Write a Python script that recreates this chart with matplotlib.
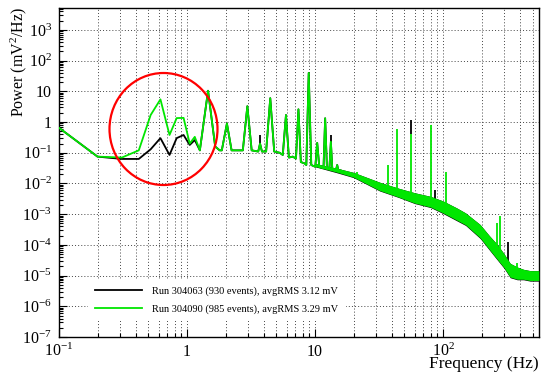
import matplotlib
matplotlib.use("Agg")
import matplotlib.pyplot as plt
from matplotlib.patches import Ellipse
from matplotlib.ticker import FixedLocator, FixedFormatter, LogLocator, NullFormatter
import numpy as np

plt.rcParams['font.family'] = ['Liberation Serif', 'DejaVu Serif']
plt.rcParams['mathtext.fontset'] = 'custom'
plt.rcParams['mathtext.rm'] = 'Liberation Serif'
plt.rcParams['mathtext.it'] = 'Liberation Serif:italic'

GREEN = '#00e600'

# low frequency part, below ~1.3 Hz (the two runs differ here)
low_f = [0.1, 0.2, 0.31, 0.42, 0.52, 0.62, 0.73, 0.83, 0.94, 1.05, 1.15, 1.26]
green_low_v = [0.65, 0.075, 0.07, 0.12, 1.7, 5.5, 0.38, 1.35, 1.37, 0.2, 0.33, 0.12]
black_low_v = [0.65, 0.075, 0.063, 0.063, 0.13, 0.30, 0.085, 0.30, 0.38, 0.18, 0.26, 0.12]

# 1.3 - 16 Hz, both runs nearly identical
mid_f = [1.46, 1.66, 1.8, 1.87, 2.05, 2.23, 2.73, 2.96, 3.2, 3.6,
         3.72, 3.85, 4.15, 4.47, 4.8, 5.3, 5.6, 5.93, 6.25, 6.7,
         7.1, 7.42, 7.75, 8.3, 8.55, 8.93, 9.35, 10.05, 10.4, 10.8,
         11.65, 12.0, 12.4, 12.95, 13.3, 13.65, 14.6, 14.9, 15.2, 16.0]
mid_v = [10.5, 0.16, 0.12, 0.12, 0.9, 0.12, 0.12, 3.3, 0.12, 0.11,
         0.2, 0.11, 0.11, 6.0, 0.11, 0.1, 0.085, 1.7, 0.07, 0.075,
         0.065, 2.6, 0.05, 0.045, 0.04, 40, 0.04, 0.035, 0.21, 0.035,
         0.032, 1.33, 0.03, 0.03, 0.23, 0.029, 0.028, 0.04, 0.027, 0.026]

# noisy band above 10 Hz (upper / lower envelope)
band_f = [10, 15, 20, 32, 45, 60, 80, 100, 128, 150, 195, 230, 265, 300, 335, 380, 425, 480, 560]
green_hi = [0.045, 0.031, 0.023, 0.011, 0.007, 0.005, 0.0038, 0.0027, 0.0016, 0.0011,
            4.6e-4, 2.0e-4, 1.04e-4, 5.1e-5, 2.5e-5, 1.9e-5, 1.6e-5, 1.45e-5, 1.45e-5]
green_lo = [0.036, 0.023, 0.016, 0.0059, 0.0036, 0.0023, 0.0017, 0.0011, 6.4e-4, 4.5e-4,
            1.7e-4, 7.1e-5, 3.4e-5, 1.8e-5, 8.9e-6, 7.6e-6, 7.6e-6, 6.9e-6, 6.9e-6]
black_lo = [0.035, 0.022, 0.0155, 0.0057, 0.0035, 0.00222, 0.00164, 0.00105, 6.1e-4, 4.3e-4,
            1.62e-4, 6.8e-5, 3.25e-5, 1.72e-5, 8.5e-6, 7.3e-6, 7.3e-6, 6.6e-6, 6.6e-6]

# narrow lines on top of the band
spike_f = [21.2, 37.4, 43.4, 56, 80, 105, 266, 279, 377]
spike_base = [0.018, 0.0075, 0.0055, 0.0036, 0.0025, 0.0016, 6e-5, 5e-5, 1.2e-5]
spike_top = [0.024, 0.04, 0.6, 0.4, 0.8, 0.024, 5e-4, 9e-4, 2.5e-5]
bspike_f = [3.72, 13.3, 56, 86, 320]
bspike_base = [0.2, 0.23, 0.4, 0.003, 3e-5]
bspike_top = [0.38, 0.38, 1.2, 0.006, 1.2e-4]

labels = ['Run 304063 (930 events), avgRMS 3.12 mV',
          'Run 304090 (985 events), avgRMS 3.29 mV']

x_ticks = [0.1, 1, 10, 100]
x_ticklabels = ['$10^{-1}$', '1', '10', '$10^{2}$']
y_ticks = [1e-7, 1e-6, 1e-5, 1e-4, 1e-3, 1e-2, 1e-1, 1, 10, 100, 1000]
y_ticklabels = ['$10^{-7}$', '$10^{-6}$', '$10^{-5}$', '$10^{-4}$', '$10^{-3}$', '$10^{-2}$',
                '$10^{-1}$', '1', '10', '$10^{2}$', '$10^{3}$']

fig = plt.figure(figsize=(5.41, 3.73), dpi=100)
ax = fig.add_axes([59/541, 36/373, 480/541, 329/373])
ax.set_xscale('log')
ax.set_yscale('log')

# black run first, green drawn over it
ax.fill_between(band_f, black_lo, green_hi, color='black', lw=0, zorder=2)
lb, = ax.plot(low_f + mid_f, black_low_v + mid_v, color='black', lw=1.3, zorder=2, label=labels[0])
ax.vlines(bspike_f, bspike_base, bspike_top, color='black', lw=1.3, zorder=2)

ax.fill_between(band_f, green_lo, green_hi, color=GREEN, lw=0, zorder=3)
lg, = ax.plot(low_f + mid_f, green_low_v + mid_v, color=GREEN, lw=1.3, zorder=3, label=labels[1])
ax.vlines(spike_f, spike_base, spike_top, color=GREEN, lw=1.3, zorder=3)

ax.set_xlim(0.1, 562)
ax.set_ylim(1e-7, 5.2e3)

ax.xaxis.set_major_locator(FixedLocator(x_ticks))
ax.xaxis.set_major_formatter(FixedFormatter(x_ticklabels))
ax.xaxis.set_minor_locator(LogLocator(base=10, subs=np.arange(2, 10), numticks=30))
ax.xaxis.set_minor_formatter(NullFormatter())
ax.yaxis.set_major_locator(FixedLocator(y_ticks))
ax.yaxis.set_major_formatter(FixedFormatter(y_ticklabels))
ax.yaxis.set_minor_locator(LogLocator(base=10, subs=np.arange(2, 10), numticks=30))
ax.yaxis.set_minor_formatter(NullFormatter())

ax.tick_params(which='both', direction='in', top=False, right=False, width=0.8, labelsize=11.5)
ax.tick_params(which='major', length=6)
ax.tick_params(which='minor', length=3)
ax.tick_params(axis='x', pad=13.5)
ax.tick_params(axis='y', pad=5)
for t in ax.xaxis.get_major_ticks():
    t.label1.set_verticalalignment('baseline')

grid_kw = dict(ls=(0, (1, 2.2)), color='#444444', lw=0.7)
ax.grid(which='major', axis='both', **grid_kw)
ax.grid(which='minor', axis='x', **grid_kw)
ax.set_axisbelow(True)
for s in ax.spines.values():
    s.set_linewidth(1.0)

ax.set_xlabel('Frequency (Hz)', fontsize=12.5, loc='right')
ax.xaxis.set_label_coords(1.0, -31.5/329)
ax.xaxis.label.set_verticalalignment('baseline')
ax.set_ylabel('Power (mV$^2$/Hz)', fontsize=11.5, loc='top')
ax.yaxis.set_label_coords(-40/480, 1 + 1/329)
ax.yaxis.label.set_verticalalignment('center')

leg = ax.legend(handles=[lb, lg], loc='lower left', bbox_to_anchor=(0.06, 0.049),
                borderaxespad=0, fontsize=7.5, frameon=True, fancybox=False,
                edgecolor='none', facecolor='white', framealpha=1,
                handlelength=4.5, handletextpad=1.0, borderpad=0.7, labelspacing=0.8)
leg.set_zorder(5)

circle = Ellipse((163.5/541, 1 - 129/373), 108/541, 112/373, transform=fig.transFigure,
                 fill=False, ec='red', lw=1.6)
fig.add_artist(circle)

fig.savefig('out.png', dpi=100)
